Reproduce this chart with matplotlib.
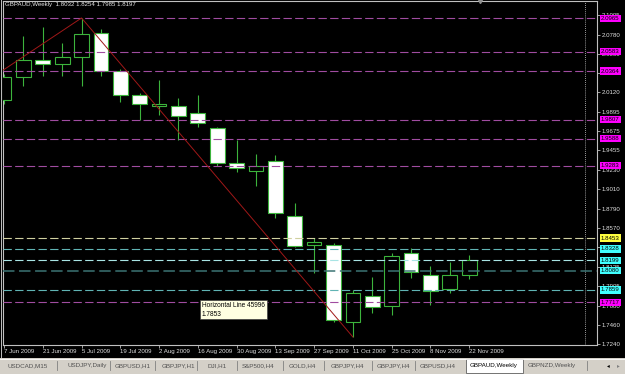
import matplotlib
matplotlib.use("Agg")
import matplotlib.pyplot as plt
import matplotlib.transforms as mtransforms
from matplotlib.patches import Rectangle
import numpy as np

plt.rcParams["font.family"] = ["Liberation Sans", "DejaVu Sans"]

# weekly GBPAUD candles, 7 Jun 2009 .. 22 Nov 2009
opens = [2.0032, 2.0296, 2.0490, 2.0444, 2.0524, 2.0799, 2.0364, 2.0090, 1.9964, 1.9964,
         1.9884, 1.9712, 1.9312, 1.9220, 1.9335, 1.8705, 1.8373, 1.8373, 1.7492, 1.7790,
         1.7676, 1.8282, 1.8030, 1.7870, 1.8032]
highs = [2.0330, 2.0765, 2.0868, 2.0685, 2.0971, 2.0845, 2.0387, 2.0113, 2.0261, 2.0055,
         2.0090, 1.9724, 1.9575, 1.9415, 1.9403, 1.8854, 1.8453, 1.8396, 1.7858, 1.8007,
         1.8282, 1.8339, 1.8133, 1.8179, 1.8254]
lows = [1.9990, 2.0193, 2.0307, 2.0307, 2.0193, 2.0307, 2.0010, 1.9804, 1.9861, 1.9575,
        1.9724, 1.9277, 1.9209, 1.9049, 1.8682, 1.8350, 1.8053, 1.7492, 1.7321, 1.7595,
        1.7572, 1.7996, 1.7687, 1.7824, 1.7985]
closes = [2.0296, 2.0490, 2.0444, 2.0524, 2.0788, 2.0364, 2.0090, 1.9987, 1.9987, 1.9849,
          1.9769, 1.9312, 1.9254, 1.9277, 1.8740, 1.8362, 1.8408, 1.7515, 1.7824, 1.7664,
          1.8248, 1.8065, 1.7847, 1.8030, 1.8197]

date_labels = ["7 Jun 2009", "21 Jun 2009", "5 Jul 2009", "19 Jul 2009", "2 Aug 2009",
               "16 Aug 2009", "30 Aug 2009", "13 Sep 2009", "27 Sep 2009", "11 Oct 2009",
               "25 Oct 2009", "8 Nov 2009", "22 Nov 2009"]
price_ticks = [2.1005, 2.0780, 2.0560, 2.0340, 2.0120, 1.9895, 1.9675, 1.9455, 1.9230,
               1.9010, 1.8790, 1.8570, 1.8345, 1.8125, 1.7905, 1.7680, 1.7460, 1.7240]

# horizontal lines drawn on the chart
level_prices = [2.0965, 2.0583, 2.0364, 1.9807, 1.9588, 1.9283,
                1.8453, 1.8328, 1.8199, 1.8080, 1.7859, 1.7717]
level_kinds = ["m", "m", "m", "m", "m", "m", "y", "c", "c2", "t", "c", "m"]

# trend line anchors (bar index, price)
trend_idx = [-3, 4, 18]
trend_price = [1.9938, 2.0971, 1.7321]

tooltip_text = "Horizontal Line 45996\n1.7853"
symbol = "GBPAUD,Weekly"

tab_names = ["USDCAD,M15", "USDJPY,Daily", "GBPUSD,H1", "GBPJPY,H1", "DJI,H1", "S&P500,H4",
             "GOLD,H4", "GBPJPY,H4", "GBPJPY,H4", "GBPUSD,H4", "GBPAUD,Weekly", "GBPNZD,Weekly"]
active_tab = "GBPAUD,Weekly"

line_style = {"m": ("#a04ca0", "#ff00ff"), "y": ("#d0d0a0", "#ffff40"),
              "c": ("#60b4b4", "#40ffff"), "c2": ("#a8e4e4", "#40ffff"),
              "t": ("#3c7474", "#40ffff")}

W, H = 625, 374
fs = 4.4
fig = plt.figure(figsize=(W / 100, H / 100), dpi=100, facecolor="black")

# chart area: pixel x 3..597, y 1..345
ax = fig.add_axes([3 / W, 1 - 345 / H, 594 / W, 344 / H], facecolor="black")
step = 19.35  # px per bar
ax.set_xlim(-1 / step, 593 / step - 1 / step)
ax.set_ylim(2.1005 - 330 / 874, 2.1005 + 14 / 874)

x = np.arange(len(opens))
o = np.array(opens)
c = np.array(closes)
green = "#3cb43c"
fills = np.where(c >= o, "black", "white")

ax.vlines(x, lows, highs, color=green, lw=0.8, zorder=2)
ax.bar(x, np.maximum(np.abs(c - o), 0.0003), bottom=np.minimum(o, c), width=0.76,
       color=fills, edgecolor=green, linewidth=0.8, zorder=3)

for p, k in zip(level_prices, level_kinds):
    lc, bc = line_style[k]
    ax.axhline(p, color=lc, lw=1.1 if k == "t" else 0.8, dashes=(7.5, 3), zorder=4)

ax.plot(trend_idx, trend_price, color="#a01818", lw=0.7, zorder=5)

# chart shift separator
ax.axvline(len(opens) + 5, color="#d0d0d0", lw=0.6, dashes=(1, 1.5), zorder=1)
ax.plot([len(opens) - 0.45], [ax.get_ylim()[1]], marker="v", ms=3, color="#909090",
        clip_on=False, zorder=6)

for s in ax.spines.values():
    s.set_color("#c0c0c0")
    s.set_linewidth(0.8)

ax.yaxis.tick_right()
ax.set_yticks(price_ticks)
ax.set_yticklabels([f"{t:.4f}" for t in price_ticks])
ax.set_xticks(np.arange(0, len(opens), 2))
ax.set_xticklabels(date_labels, ha="left")
ax.tick_params(axis="both", colors="#e0e0e0", labelsize=fs, length=2, width=0.5, pad=1.2)

# price labels for the horizontal lines
blend = mtransforms.blended_transform_factory(ax.transAxes, ax.transData)
for p, k in zip(level_prices, level_kinds):
    lc, bc = line_style[k]
    ax.text(1.0068, p, f"{p:.4f}", transform=blend, fontsize=fs, color="black",
            va="center", ha="left", clip_on=False, zorder=7,
            bbox=dict(boxstyle="square,pad=0.18", fc=bc, ec="none"))

fig.text(5 / W, 1 - 2 / H,
         f"{symbol}  {opens[-1]:.4f} {highs[-1]:.4f} {lows[-1]:.4f} {closes[-1]:.4f}",
         fontsize=fs, color="#e8e8e8", va="top", ha="left")

fig.text(202 / W, 1 - 302 / H, tooltip_text, fontsize=4.7, color="black", va="top",
         ha="left", linespacing=1.3,
         bbox=dict(boxstyle="square,pad=0.3", fc="#ffffe1", ec="#404040", lw=0.5))

# window border
fig.add_artist(plt.Line2D([1.5 / W, 1.5 / W], [1 - 357 / H, 1], color="#c0c0c0", lw=0.7))

# tab bar along the bottom
tab = fig.add_axes([0, 0, 1, 16 / H])
tab.set_xlim(0, W)
tab.set_ylim(374, 358)
tab.set_axis_off()
tab.add_patch(Rectangle((0, 358), W, 16, fc="#d4d0c8", ec="none"))
tab.plot([0, W], [358.5, 358.5], color="#ffffff", lw=0.6)
tab_centers = [28, 87, 133, 178, 217, 258, 302, 347, 393, 438, 494, 552]
tab_seps = [57, 110, 155, 197, 237, 283, 324, 372, 415, 587]
for sx in tab_seps:
    tab.plot([sx, sx], [361, 370], color="#808080", lw=0.6)
for name, cx in zip(tab_names, tab_centers):
    if name == active_tab:
        tab.add_patch(Rectangle((466, 358.5), 57, 14, fc="white", ec="#606060", lw=0.6))
        tab.text(cx, 365.5, name, fontsize=4.5, color="black", ha="center", va="center")
    else:
        tab.text(cx, 365.5, name, fontsize=4.5, color="#505050", ha="center", va="center")
tab.text(608, 365.5, "\u25c2", fontsize=4, color="black", ha="center", va="center",
         family="DejaVu Sans")
tab.text(618, 365.5, "\u25b8", fontsize=4, color="#808080", ha="center", va="center",
         family="DejaVu Sans")

fig.savefig("out.png", dpi=100, facecolor=fig.get_facecolor())
